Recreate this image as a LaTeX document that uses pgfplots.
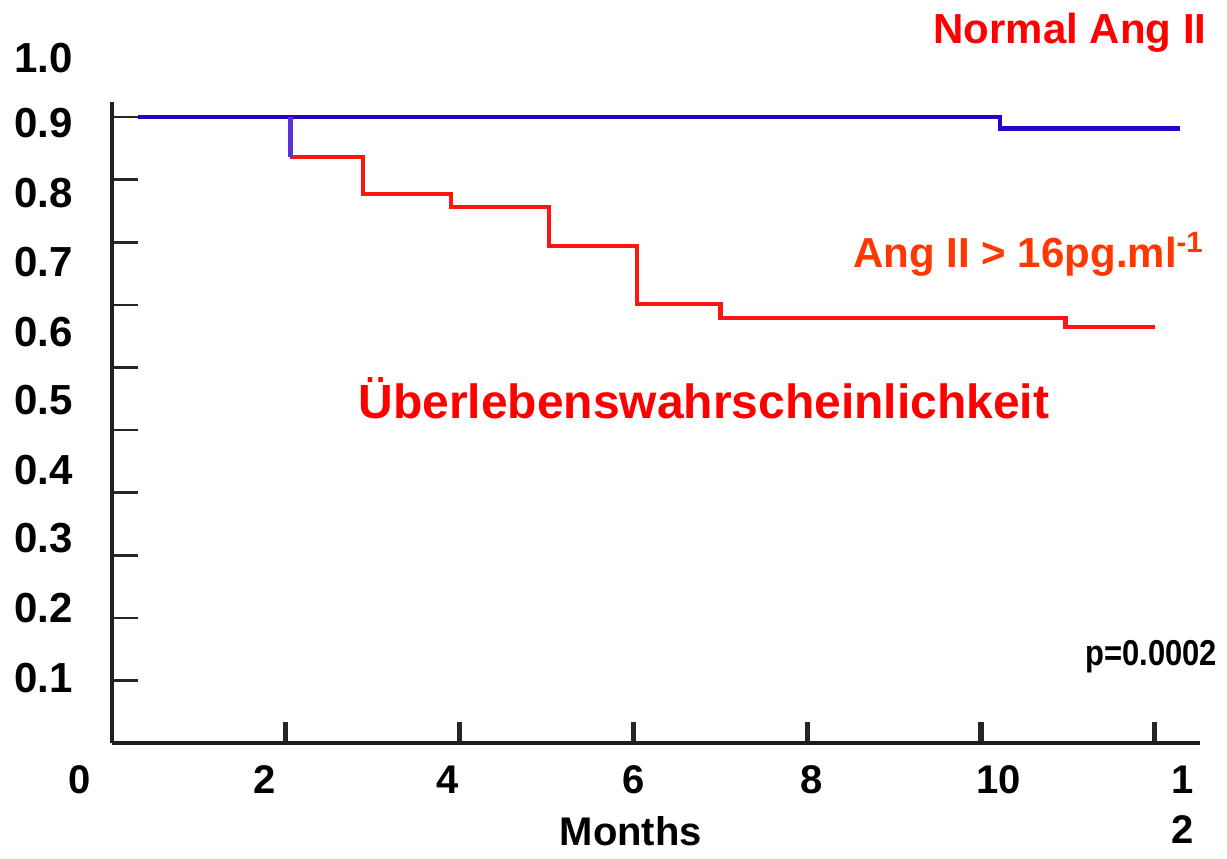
\documentclass[border=0pt]{standalone}
\usepackage{pgfplots}
\pgfplotsset{compat=1.18}
\usepackage{fontspec}
\setmainfont{Liberation Sans}
\usepackage{graphicx}

\definecolor{normblue}{RGB}{40,0,200}
\definecolor{normbluelt}{RGB}{90,50,215}
\definecolor{highred}{RGB}{255,20,20}
\definecolor{labred}{RGB}{255,0,0}
\definecolor{angorange}{RGB}{255,55,0}

\begin{document}
\begin{tikzpicture}[
  lab/.style={font=\fontsize{21}{25}\selectfont\bfseries, inner sep=0pt},
  xlab/.style={font=\fontsize{20}{24}\selectfont\bfseries, inner sep=0pt, anchor=base},
]
\begin{axis}[
  scale only axis, width=544pt, height=320.5pt,
  xmin=0, xmax=12.52, ymin=-0.1, ymax=0.924,
  axis x line=bottom, axis y line=left,
  axis line style={-, line width=2.2pt, black!88},
  xtick={2,4,6,8,10,12},
  ytick={0,0.1,0.2,0.3,0.4,0.5,0.6,0.7,0.8,0.9},
  xticklabels={}, yticklabels={},
  tick align=inside,
  xtick style={line width=2.6pt, black!85, /pgfplots/major tick length=10.5pt},
  ytick style={line width=1.3pt, black!85, /pgfplots/major tick length=13pt},
  clip=false,
]
% overall extent of the figure
\path (axis cs:-1.289,-0.284) rectangle (axis cs:12.83,1.087);

% Ang II > 16 pg/ml group
\addplot[const plot, highred, line width=2.2pt] coordinates {
  (2.05,0.836) (2.89,0.777) (3.90,0.756) (5.03,0.694)
  (6.04,0.601) (7.00,0.579) (10.97,0.565) (12.00,0.565)
};
% normal Ang II group
\addplot[const plot, normblue, line width=2.2pt] coordinates {
  (0.30,0.900) (10.22,0.882) (12.29,0.882)
};
% first drop of the high group, drawn in the group-one tone
\addplot[normbluelt, line width=2.4pt] coordinates {(2.05,0.900) (2.05,0.836)};

% y tick labels
\node[lab, anchor=east] at (axis cs:-0.449,0.994) {1.0};
\node[lab, anchor=east] at (axis cs:-0.449,0.890) {0.9};
\node[lab, anchor=east] at (axis cs:-0.449,0.779) {0.8};
\node[lab, anchor=east] at (axis cs:-0.449,0.668) {0.7};
\node[lab, anchor=east] at (axis cs:-0.449,0.557) {0.6};
\node[lab, anchor=east] at (axis cs:-0.449,0.448) {0.5};
\node[lab, anchor=east] at (axis cs:-0.449,0.336) {0.4};
\node[lab, anchor=east] at (axis cs:-0.449,0.227) {0.3};
\node[lab, anchor=east] at (axis cs:-0.449,0.116) {0.2};
\node[lab, anchor=east] at (axis cs:-0.449,0.004) {0.1};
% x tick labels
\node[xlab] at (axis cs:-0.368,-0.180) {0};
\node[xlab] at (axis cs:1.761,-0.180) {2};
\node[xlab] at (axis cs:3.866,-0.180) {4};
\node[xlab] at (axis cs:6.007,-0.180) {6};
\node[xlab] at (axis cs:8.055,-0.180) {8};
\node[xlab] at (axis cs:10.200,-0.180) {10};
\node[xlab] at (axis cs:12.32,-0.180) {1};
\node[xlab] at (axis cs:12.32,-0.260) {2};
\node[xlab] at (axis cs:5.97,-0.263) {Months};

\node[lab, anchor=base east, text=labred] at (axis cs:12.60,1.017) {Normal Ang II};
\node[lab, anchor=base west, text=angorange]
  at (axis cs:8.527,0.660) {Ang II > 16pg.ml\textsuperscript{-1}};
\node[lab, anchor=base west, text=labred, font=\fontsize{24}{28}\selectfont\bfseries]
  at (axis cs:2.83,0.419) {Überlebenswahrscheinlichkeit};
\node[lab, anchor=base east, font=\fontsize{18}{22}\selectfont\bfseries]
  at (axis cs:12.72,0.0246) {\scalebox{0.86}[1]{p=0.0002}};
\end{axis}
\end{tikzpicture}
\end{document}
